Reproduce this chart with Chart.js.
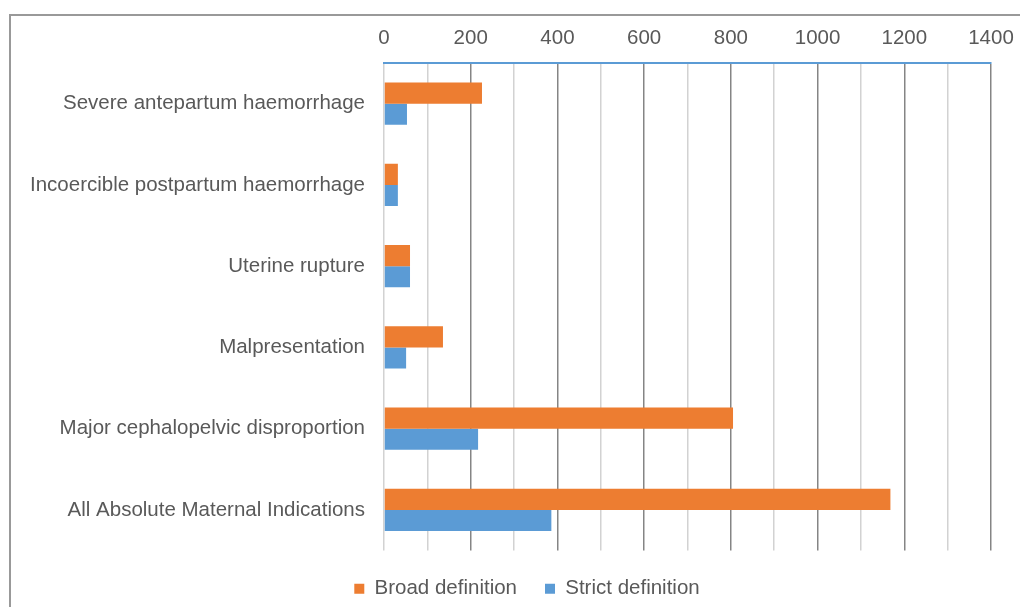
<!DOCTYPE html>
<html>
<head>
<meta charset="utf-8">
<script src="https://cdn.jsdelivr.net/npm/chart.js@4"></script>
<style>
  body { margin: 0; background: #fff; }
  #wrap { position: relative; width: 1020px; height: 607px; }
  #frame { position: absolute; left: 9px; top: 14px; right: -5px; bottom: -5px;
           border-left: 2px solid #999; border-top: 2px solid #999; }
  canvas { position: absolute; left: 0; top: 0; }
</style>
</head>
<body>
<div id="wrap">
  <div id="frame"></div>
  <canvas id="chart" width="1020" height="607"></canvas>
</div>
<script>
const categories = [
  'Severe antepartum haemorrhage',
  'Incoercible postpartum haemorrhage',
  'Uterine rupture',
  'Malpresentation',
  'Major cephalopelvic disproportion',
  'All Absolute Maternal Indications'
];
const broad = [226, 32, 60, 136, 805, 1168];
const strict = [53, 32, 60, 51, 217, 386];
const xMin = 0, xMax = 1400, xStep = 100;

const ctx = document.querySelector('#chart').getContext('2d');
const textColor = '#595959';
const font = { family: "'Liberation Sans', Arial, sans-serif", size: 20.5 };

// legend sits a bit right of centre in the original
const shiftLegend = {
  id: 'shiftLegend',
  afterLayout(chart) {
    chart.legend.left += 17;
    chart.legend.right += 17;
  }
};

new Chart(ctx, {
  type: 'bar',
  data: {
    labels: categories,
    datasets: [
      { label: 'Broad definition', data: broad, backgroundColor: '#ED7D31' },
      { label: 'Strict definition', data: strict, backgroundColor: '#5B9BD5' }
    ]
  },
  options: {
    indexAxis: 'y',
    responsive: false,
    animation: false,
    barPercentage: 1,
    categoryPercentage: 0.52,
    layout: { padding: { top: 14, right: 0, bottom: -2, left: 0 } },
    plugins: {
      tooltip: { enabled: false },
      legend: {
        position: 'bottom',
        labels: { color: textColor, font: font, boxWidth: 10, boxHeight: 10, padding: 28 }
      }
    },
    scales: {
      x: {
        position: 'top',
        min: xMin, max: xMax,
        afterFit: s => { s.height = 49; s.paddingRight = 29; s.paddingLeft = 0; },
        ticks: {
          stepSize: xStep, autoSkip: false, minRotation: 0, maxRotation: 0,
          color: textColor, font: font, padding: 12,
          callback: v => (v % 200 === 0 ? v : '')
        },
        grid: {
          drawTicks: false,
          lineWidth: 1.5,
          color: c => (c.tick && c.tick.value % 200 === 0 && c.tick.value !== 0 ? '#858585' : '#d2d2d2')
        },
        border: { color: '#5B9BD5', width: 2 }
      },
      y: {
        afterFit: s => { s.width = 384; },
        ticks: { color: textColor, font: font, padding: 11 },
        grid: { display: false },
        border: { display: false }
      }
    }
  },
  plugins: [shiftLegend]
});
</script>
</body>
</html>
